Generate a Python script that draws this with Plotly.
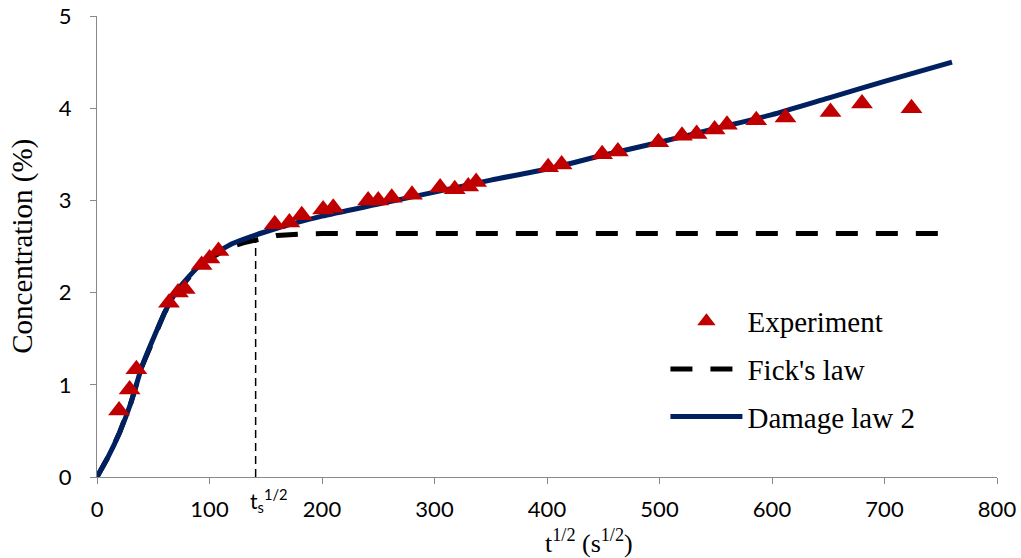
import plotly.graph_objects as go

# Experiment data
exp_x = [19.6, 29, 35, 64, 72, 78, 93, 100, 108, 158, 171, 182, 201, 210, 241, 250, 262, 280,
         305, 318, 330, 337, 401, 413, 449, 463, 499, 520, 533, 549, 560, 586, 612, 652, 680, 724]
exp_y = [0.72, 0.95, 1.17, 1.89, 2.0, 2.04, 2.3, 2.37, 2.45, 2.74, 2.76, 2.84, 2.9, 2.92, 3.0, 3.0, 3.03, 3.06,
         3.14, 3.12, 3.15, 3.2, 3.36, 3.39, 3.5, 3.53, 3.63, 3.7, 3.72, 3.77, 3.82, 3.87, 3.9, 3.96, 4.05, 4.0]

# Damage law 2 model curve
dmg_x = [0, 10, 20, 30, 40, 50, 60, 70, 80, 90, 100, 110, 120, 135, 150, 175, 200, 250, 300, 350,
         400, 450, 500, 550, 600, 650, 700, 760]
dmg_y = [0, 0.22, 0.48, 0.8, 1.2, 1.5, 1.78, 2.0, 2.15, 2.28, 2.38, 2.46, 2.53, 2.6, 2.66, 2.75, 2.83, 2.96,
         3.09, 3.22, 3.34, 3.49, 3.63, 3.78, 3.93, 4.11, 4.29, 4.5]

# Fick's law curve
fick_x = [0, 10, 20, 30, 40, 50, 60, 70, 80, 90, 100, 110, 120, 130, 140, 150, 160, 180, 200, 300, 500, 754]
fick_y = [0, 0.22, 0.48, 0.8, 1.2, 1.5, 1.78, 2.0, 2.15, 2.28, 2.37, 2.44, 2.5, 2.54, 2.57, 2.6, 2.62, 2.635,
          2.64, 2.64, 2.64, 2.64]

# saturation time marker
ts_x = [141, 141]
ts_y = [0, 2.58]

x_ticks = [0, 100, 200, 300, 400, 500, 600, 700, 800]
y_ticks = [0, 1, 2, 3, 4, 5]

SERIF = "Liberation Serif"
SANS = "Lato"
AXC = "#898989"

fig = go.Figure()

fig.add_trace(go.Scatter(x=ts_x, y=ts_y, mode="lines", showlegend=False, hoverinfo="skip",
                         line=dict(color="black", width=1.5, dash="8px,5px")))
fig.add_trace(go.Scatter(x=fick_x, y=fick_y, mode="lines", name="Fick's law", legendrank=2,
                         legendgroup="b", line=dict(color="black", width=5, dash="22px,18px")))
fig.add_trace(go.Scatter(x=dmg_x, y=dmg_y, mode="lines", name="Damage law 2", legendrank=3,
                         legendgroup="c", line=dict(color="#002060", width=5, shape="spline", smoothing=0.6)))
fig.add_trace(go.Scatter(x=exp_x, y=exp_y, mode="markers", name="Experiment", legendrank=1,
                         legendgroup="a",
                         marker=dict(symbol="triangle-up", size=19, color="#C00000", line=dict(width=0))))

fig.add_annotation(x=ts_x[0], y=0, xref="x", yref="y", text="t<sub>s</sub><sup>1/2</sup>",
                   showarrow=False, xanchor="left", yanchor="top", xshift=-8, yshift=-6,
                   font=dict(family=SANS, size=21, color="black"))

fig.add_annotation(x=0.547, y=0, xref="paper", yref="paper",
                   text="t<sup>1/2</sup> (s<sup>1/2</sup>)", showarrow=False,
                   xanchor="center", yanchor="middle", yshift=-64,
                   font=dict(family=SERIF, size=26, color="black"))
fig.add_annotation(x=-0.083, y=0.5, xref="paper", yref="paper", text="Concentration (%)",
                   showarrow=False, textangle=-90, xanchor="center", yanchor="middle",
                   font=dict(family=SERIF, size=29, color="black"))

fig.update_layout(
    width=1021, height=558,
    margin=dict(l=97, r=24, t=16, b=81, autoexpand=False),
    paper_bgcolor="white", plot_bgcolor="white",
    showlegend=True,
    legend=dict(x=0.6316, y=0.393, xanchor="left", yanchor="top", bgcolor="rgba(0,0,0,0)",
                font=dict(family=SERIF, size=29, color="black"), itemwidth=72,
                tracegroupgap=7),
    xaxis=dict(range=[0, 800], tickvals=x_ticks, ticks="outside", ticklen=6, tickcolor=AXC,
               tickwidth=1.3, showline=True, linecolor=AXC, linewidth=1.3, showgrid=False,
               zeroline=False, tickfont=dict(family=SANS, size=22, color="black"),
               ticklabelstandoff=6, automargin=False),
    yaxis=dict(range=[0, 5], tickvals=y_ticks, ticks="outside", ticklen=6, tickcolor=AXC,
               tickwidth=1.3, showline=True, linecolor=AXC, linewidth=1.3, showgrid=False,
               zeroline=False, tickfont=dict(family=SANS, size=22, color="black"),
               ticklabelstandoff=14, automargin=False),
)

fig.write_html("out.html")
